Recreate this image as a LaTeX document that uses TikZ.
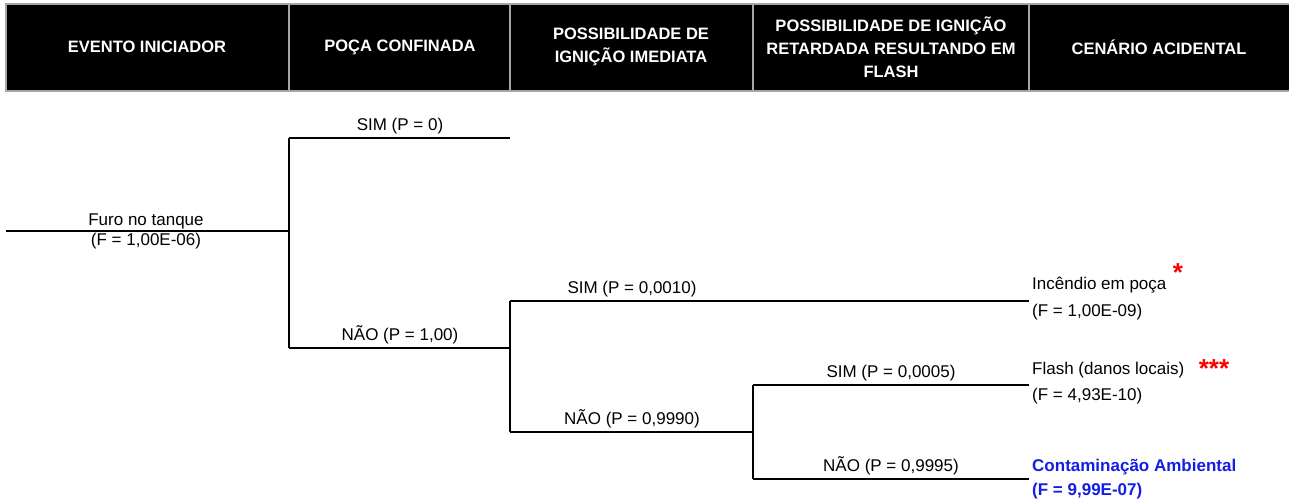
\documentclass[tikz,border=0pt]{standalone}
\usepackage{fontspec}
\setmainfont{Liberation Sans}
\begin{document}
\begin{tikzpicture}[x=1pt,y=-1pt,
  branch/.style={line width=2.2pt,black},
  hdr/.style={text=white,font=\fontsize{16.5}{23}\selectfont\bfseries,align=center},
  lbl/.style={font=\fontsize{17}{20}\selectfont,inner sep=2pt},
  outc/.style={font=\fontsize{17}{20}\selectfont,inner sep=1pt,anchor=west},
  star/.style={text=red,font=\fontsize{26}{26}\selectfont\bfseries,inner sep=0pt}]
\useasboundingbox (0,0) rectangle (1289,499);
\fill[white] (0,0) rectangle (1289,499);
% header
\fill[black] (6,4) rectangle (1289,91);
\draw[gray!70,line width=1.5pt] (6,4) rectangle (1290,91);
\foreach \x in {289,510,753,1029}{\draw[gray!70,line width=1.5pt] (\x,4) -- (\x,91);}
\node[hdr] (h1) at (147,47) {EVENTO INICIADOR};
\node[hdr] (h2) at (400,47) {POÇA CONFINADA};
\node[hdr] (h3) at (631,47) {POSSIBILIDADE DE\\IGNIÇÃO IMEDIATA};
\node[hdr] (h4) at (891,47) {POSSIBILIDADE DE IGNIÇÃO\\RETARDADA RESULTANDO EM\\FLASH};
\node[hdr] (h5) at (1159,47) {CENÁRIO ACIDENTAL};
% tree coordinates
\coordinate (r0) at (6,231);
\coordinate (j1) at (289,231);
\coordinate (j1t) at (289,138);
\coordinate (j1b) at (289,348);
\coordinate (e1) at (510,138);
\coordinate (j2) at (510,348);
\coordinate (j2t) at (510,301);
\coordinate (j2b) at (510,432);
\coordinate (e2) at (1029,301);
\coordinate (j3) at (753,432);
\coordinate (j3t) at (753,385);
\coordinate (j3b) at (753,479);
\coordinate (e3) at (1029,385);
\coordinate (e4) at (1029,479);
% branches
\draw[branch] (r0) -- (j1);
\draw[branch] (j1t) -- (j1b);
\draw[branch] (j1t) -- (e1);
\draw[branch] (j1b) -- (j2);
\draw[branch] (j2t) -- (j2b);
\draw[branch] (j2t) -- (e2);
\draw[branch] (j2b) -- (j3);
\draw[branch] (j3t) -- (j3b);
\draw[branch] (j3t) -- (e3);
\draw[branch] (j3b) -- (e4);
% labels
\node[lbl,anchor=south] (l0) at (146,231) {Furo no tanque};
\node[lbl,anchor=north] (l0b) at (146,231) {(F = 1,00E-06)};
\node[lbl,anchor=south] (l1) at (400,136) {SIM (P = 0)};
\node[lbl,anchor=south] (l2) at (400,346) {NÃO (P = 1,00)};
\node[lbl,anchor=south] (l3) at (632,299) {SIM (P = 0,0010)};
\node[lbl,anchor=south] (l4) at (632,430) {NÃO (P = 0,9990)};
\node[lbl,anchor=south] (l5) at (891,383) {SIM (P = 0,0005)};
\node[lbl,anchor=south] (l6) at (891,477) {NÃO (P = 0,9995)};
% outcomes
\node[outc] (o1) at (1031,285) {Incêndio em poça};
\node[outc] (o1b) at (1031,312) {(F = 1,00E-09)};
\node[star] (s1) at (1178,273) {*};
\node[outc] (o2) at (1031,370) {Flash (danos locais)};
\node[outc] (o2b) at (1031,396) {(F = 4,93E-10)};
\node[star] (s2) at (1214,369) {***};
\node[outc,text={rgb,255:red,20;green,30;blue,230},font=\fontsize{17}{20}\selectfont\bfseries] (o3) at (1031,467) {Contaminação Ambiental};
\node[outc,text={rgb,255:red,20;green,30;blue,230},font=\fontsize{17}{20}\selectfont\bfseries] (o3b) at (1031,491) {(F = 9,99E-07)};
\end{tikzpicture}
\end{document}
